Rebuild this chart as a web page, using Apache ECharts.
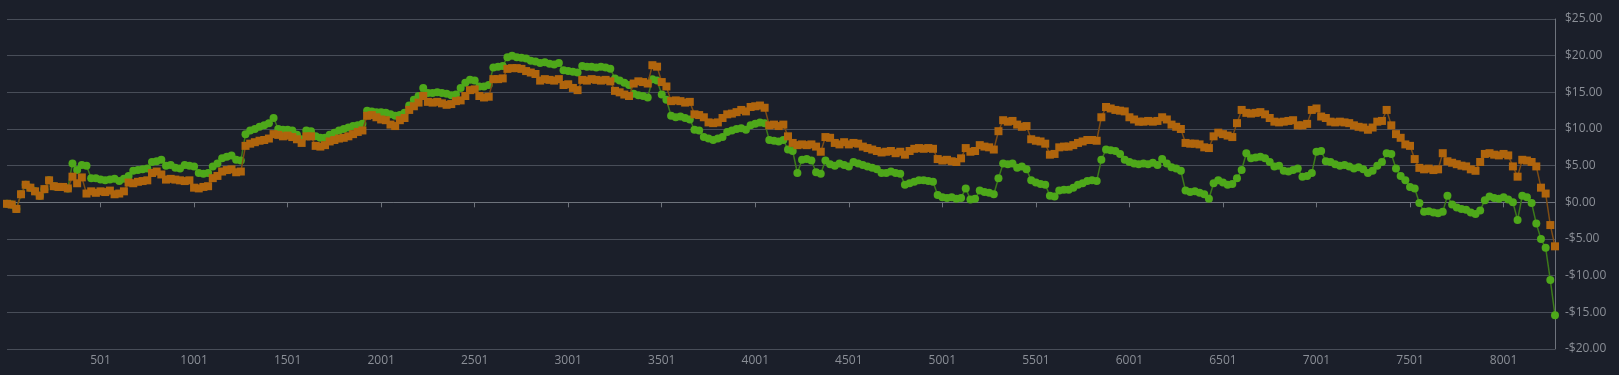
<!DOCTYPE html>
<html>
<head>
<meta charset="utf-8">
<script src="https://cdn.jsdelivr.net/npm/echarts@6/dist/echarts.min.js"></script>
<style>
html,body{margin:0;padding:0;background:#1b1f2a;}
#chart{width:1619px;height:375px;}
</style>
</head>
<body>
<div id="chart"></div>
<script>
// sampled every 25 trades: category label = 1 + 25*i
const sampleStep = 25;
const sampleCount = 332;
const categories = Array.from({length: sampleCount}, (_, i) => String(1 + sampleStep * i));

const yTicks = [-20, -15, -10, -5, 0, 5, 10, 15, 20, 25];

const orangeValues = [
-0.2,-0.3,-0.9,1.1,2.4,2.0,1.5,0.9,1.8,3.0,
2.2,2.1,2.1,1.9,3.5,2.6,3.4,1.2,1.5,1.3,
1.5,1.4,1.6,1.1,1.2,1.5,2.7,2.6,2.8,2.9,
3.0,4.0,4.2,3.8,3.1,3.2,3.1,3.0,2.9,3.0,
2.0,1.9,2.1,2.2,3.3,3.6,4.2,4.4,4.5,4.1,
4.2,7.7,8.0,8.2,8.4,8.5,8.7,9.3,9.2,9.0,
9.1,8.9,8.6,8.1,9.0,9.0,7.7,7.6,7.8,8.3,
8.5,8.7,8.8,9.0,9.3,9.6,9.8,11.8,11.9,11.6,
11.3,11.2,10.6,10.4,11.2,11.5,12.6,13.1,13.6,14.5,
13.7,13.6,13.7,13.5,13.3,13.4,13.8,13.9,14.5,15.3,
15.4,14.5,14.3,14.4,16.8,16.8,16.9,18.2,18.3,18.3,
18.2,17.9,17.7,17.5,16.6,16.8,16.7,16.6,16.8,16.0,
16.1,15.6,15.3,16.7,16.6,16.8,16.7,16.6,16.7,16.5,
15.2,15.0,14.7,14.5,16.2,16.5,16.4,16.2,18.7,18.5,
16.4,15.8,13.8,13.9,13.8,13.6,13.7,12.0,11.9,11.6,
10.9,10.8,10.9,11.5,12.0,12.1,12.3,12.6,12.4,13.0,
13.1,13.2,12.9,10.5,10.6,10.4,10.6,9.0,8.1,7.8,
7.9,7.8,7.9,7.6,6.9,8.9,8.8,8.1,7.9,8.2,
7.9,8.1,8.0,7.6,7.4,7.2,7.0,6.8,6.9,7.0,
6.7,6.9,6.5,7.0,7.3,7.4,7.3,7.4,7.3,5.9,
5.7,5.8,5.6,5.5,6.0,7.4,6.9,7.0,7.8,7.6,
7.5,7.2,9.7,11.2,11.0,11.1,10.6,10.3,10.4,8.6,
8.4,8.3,8.0,6.5,6.6,7.5,7.6,7.6,7.8,8.1,
8.3,8.5,8.5,8.4,11.6,13.0,12.8,12.6,12.5,12.4,
11.6,11.3,11.0,11.0,11.1,11.0,11.1,11.6,11.3,10.6,
10.3,10.0,8.1,8.0,8.0,7.9,7.5,7.4,9.0,9.5,
9.3,9.1,8.9,10.8,12.6,12.2,12.1,12.2,12.3,12.0,
11.5,11.0,10.9,11.0,11.1,11.2,10.5,10.5,10.7,12.6,
12.8,11.7,11.5,11.0,10.9,11.0,10.9,10.8,10.5,10.3,
10.2,9.9,10.2,11.0,11.1,12.6,10.5,9.3,8.8,7.9,
7.7,5.9,4.7,4.5,4.6,4.4,4.5,6.7,5.6,5.4,
5.2,5.0,4.9,4.5,4.3,5.5,6.6,6.7,6.5,6.4,
6.6,6.4,4.9,3.5,5.8,5.7,5.5,4.9,2.0,1.2,
-3.1,-6.0
];

const greenValues = [
-0.2,-0.3,-0.9,1.1,2.4,2.0,1.5,0.9,1.8,3.0,
2.2,2.1,2.1,1.9,5.3,4.4,5.1,5.0,3.3,3.3,
3.1,3.0,3.1,3.2,2.9,3.2,3.6,4.3,4.4,4.5,
4.6,5.5,5.6,5.8,5.0,5.1,4.7,4.6,5.1,5.0,
4.9,4.0,3.9,4.0,4.9,5.3,6.0,6.2,6.4,5.8,
5.7,9.3,9.8,10.0,10.3,10.5,10.8,11.5,10.0,9.9,
9.9,9.8,9.2,8.6,9.8,9.7,9.0,8.8,8.8,9.2,
9.5,9.8,10.0,10.2,10.4,10.5,10.7,12.5,12.4,12.3,
12.3,12.2,12.0,11.8,11.9,12.2,13.2,14.0,14.5,15.6,
14.9,14.9,15.0,14.9,14.8,14.6,14.7,15.6,16.3,16.7,
16.6,15.8,15.8,16.0,18.4,18.5,18.6,19.8,20.0,19.8,
19.7,19.6,19.3,19.2,19.0,19.1,18.9,18.8,19.0,18.0,
17.9,17.8,17.7,18.6,18.5,18.5,18.4,18.5,18.4,18.2,
16.9,16.6,16.3,16.0,14.8,14.6,14.5,14.3,16.8,16.6,
14.7,14.0,11.8,11.6,11.7,11.5,11.3,9.9,9.8,8.9,
8.7,8.5,8.7,8.9,9.6,9.8,10.0,10.1,9.9,10.5,
10.7,10.9,10.8,8.5,8.4,8.3,8.5,7.2,7.0,4.0,
5.8,5.9,5.7,4.1,3.9,5.7,5.2,5.0,5.3,5.1,
4.9,5.5,5.3,5.1,4.9,4.7,4.5,4.0,4.0,4.2,
4.0,3.9,2.4,2.6,2.8,3.0,3.0,2.9,2.8,1.0,
0.7,0.6,0.7,0.5,0.6,1.9,0.4,0.5,1.6,1.4,
1.3,1.1,3.3,5.3,5.2,5.3,4.7,4.9,4.5,3.0,
2.7,2.5,2.4,0.9,0.8,1.6,1.7,1.7,2.0,2.4,
2.6,2.9,3.0,2.9,5.8,7.2,7.1,7.0,6.6,5.8,
5.5,5.3,5.2,5.3,5.2,5.4,5.1,5.9,5.3,4.8,
4.6,4.3,1.6,1.4,1.5,1.3,1.1,0.5,2.6,3.0,
2.7,2.4,2.5,3.3,4.4,6.7,6.0,6.1,6.2,6.0,
5.5,4.9,5.0,4.3,4.2,4.4,4.6,3.5,3.6,4.0,
6.9,7.0,5.6,5.5,5.2,5.0,5.1,4.9,4.6,4.8,
4.5,4.0,4.3,5.0,5.5,6.7,6.6,4.6,3.6,3.0,
2.1,1.9,-0.1,-1.3,-1.2,-1.4,-1.5,-1.3,0.9,-0.3,
-0.7,-0.9,-1.0,-1.4,-1.6,-1.1,0.3,0.8,0.6,0.5,
0.7,0.4,0.0,-2.4,0.9,0.7,-0.1,-2.9,-5.0,-6.2,
-10.6,-15.4
];

const textColor = '#8b8f97';
const gridColor = '#484d58';

function moneyLabel(v) {
  const s = '$' + Math.abs(v).toFixed(2);
  return v < 0 ? '-' + s : s;
}
function showTick(idx) { return idx > 0 && idx % 20 === 0; }

const chart = echarts.init(document.getElementById('chart'), null, {renderer: 'canvas'});
chart.setOption({
  backgroundColor: '#1b1f2a',
  animation: false,
  grid: {left: 7, right: 64, top: 19, bottom: 26, containLabel: false},
  xAxis: {
    type: 'category',
    data: categories,
    boundaryGap: false,
    axisLine: {show: true, lineStyle: {color: '#6e737c', width: 1}},
    axisTick: {show: true, interval: showTick, length: 5, lineStyle: {color: '#6e737c'}},
    axisLabel: {interval: showTick, color: textColor, fontFamily: 'Open Sans', fontSize: 12, margin: 6},
    splitLine: {show: false}
  },
  yAxis: {
    type: 'value',
    position: 'right',
    min: yTicks[0],
    max: yTicks[yTicks.length - 1],
    interval: 5,
    axisLine: {show: true, lineStyle: {color: '#6e737c', width: 1}},
    axisTick: {show: false},
    axisLabel: {color: textColor, fontFamily: 'Open Sans', fontSize: 12, margin: 10, formatter: moneyLabel},
    splitLine: {show: true, lineStyle: {color: gridColor, width: 1}}
  },
  series: [
    {
      name: 'green',
      type: 'line',
      data: greenValues,
      symbol: 'circle',
      symbolSize: 8,
      showAllSymbol: true,
      itemStyle: {color: '#4ea81a'},
      lineStyle: {color: '#3c7a1a', width: 1.5},
      z: 2
    },
    {
      name: 'orange',
      type: 'line',
      data: orangeValues,
      symbol: 'rect',
      symbolSize: 8,
      showAllSymbol: true,
      itemStyle: {color: '#b0650d'},
      lineStyle: {color: '#7e4c14', width: 1.5},
      z: 3
    }
  ]
});
</script>
</body>
</html>
